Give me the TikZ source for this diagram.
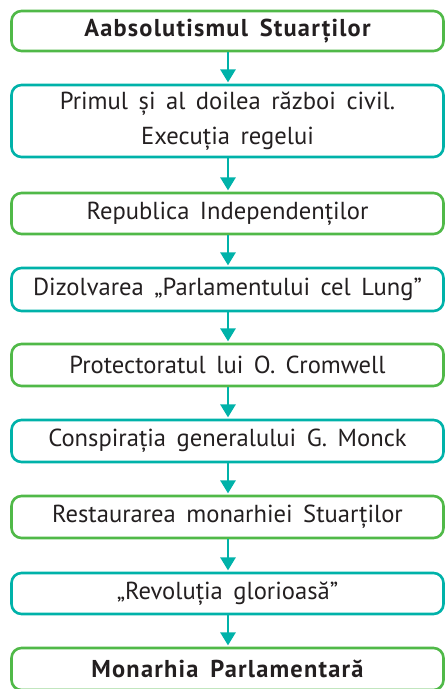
\documentclass[tikz,border=0pt]{standalone}
\usepackage{fontspec}
\setmainfont{PT Sans}[WordSpace=1.6, BoldFeatures={LetterSpace=5}]
\usetikzlibrary{arrows.meta}
\definecolor{grn}{RGB}{80,185,72}
\definecolor{teal2}{RGB}{0,178,169}
\definecolor{txt}{RGB}{35,31,32}
\tikzset{
  box/.style={draw, line width=2.6pt, rounded corners=10pt, minimum width=432pt, text=txt, align=center, inner sep=0pt, font=\fontsize{24.6}{35}\selectfont},
  gbox/.style={box, draw=grn},
  tbox/.style={box, draw=teal2},
  bbox/.style={font=\fontsize{24.4}{35}\selectfont\bfseries},
  arr/.style={draw=teal2, line width=2.6pt, -{Triangle[length=13pt,width=15pt]}, shorten >=1.3pt}
}
\begin{document}
\begin{tikzpicture}[x=1pt,y=-1pt]
\useasboundingbox (0,0) rectangle (446,689);
\node[gbox, bbox, minimum height=40pt] (n1) at (227.5,31) {Aabsolutismul Stuarților};
\node[tbox, minimum height=72pt] (n2) at (227.5,121) {Primul și al doilea război civil.\\Execuția regelui};
\node[gbox, minimum height=41pt] (n3) at (227.5,213.5) {Republica Independenților};
\node[tbox, minimum height=43pt] (n4) at (227.5,289.5) {Dizolvarea „Parlamentului cel Lung”};
\node[gbox, minimum height=42pt] (n5) at (227.5,365) {Protectoratul lui O. Cromwell};
\node[tbox, minimum height=42pt] (n6) at (227.5,441) {Conspirația generalului G. Monck};
\node[gbox, minimum height=42pt] (n7) at (227.5,517) {Restaurarea monarhiei Stuarților};
\node[tbox, minimum height=41pt] (n8) at (227.5,593.5) {„Revoluția glorioasă”};
\node[gbox, bbox, minimum height=42pt] (n9) at (227.5,669) {Monarhia Parlamentară};
\foreach \a/\b in {n1/n2,n2/n3,n3/n4,n4/n5,n5/n6,n6/n7,n7/n8,n8/n9}
  \draw[arr] ([xshift=0.5pt]\a.south) -- ([xshift=0.5pt]\b.north);
\end{tikzpicture}
\end{document}
